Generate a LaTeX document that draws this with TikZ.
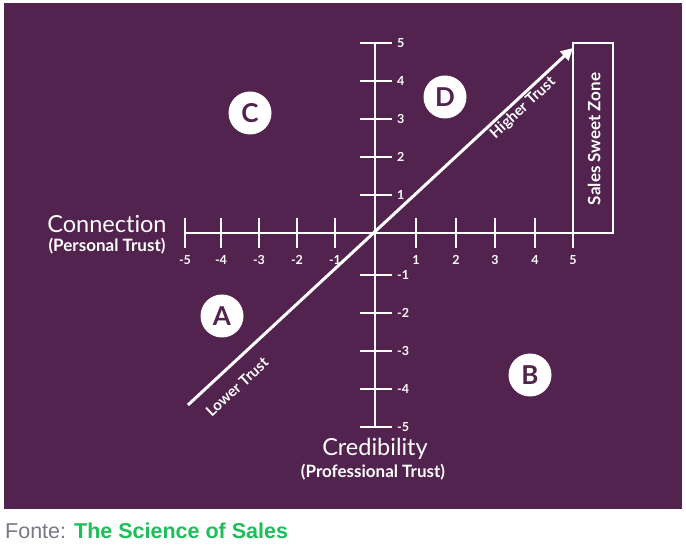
\documentclass[tikz,border=0pt]{standalone}
\usepackage{fontspec}
\setmainfont[Ligatures=NoCommon]{Lato}
\newfontfamily\footfont{Liberation Sans}
\usetikzlibrary{arrows.meta}
\definecolor{bgpurple}{RGB}{82,35,78}
\definecolor{footgray}{RGB}{120,120,135}
\definecolor{footgreen}{RGB}{30,190,90}
\tikzset{
  axisline/.style={draw=white,line width=2.6pt},
  tickmark/.style={draw=white,line width=2.2pt},
  ticklab/.style={text=white,font=\fontsize{12.5}{14}\selectfont\bfseries,inner sep=1pt},
  quad/.style={circle,fill=white,text=bgpurple,minimum size=43pt,inner sep=0pt,font=\fontsize{26}{28}\selectfont\bfseries},
  bigtitle/.style={text=white,font=\fontsize{23.5}{26}\selectfont},
  subtitle/.style={text=white,font=\fontsize{17}{19}\selectfont\bfseries},
  trustlab/.style={text=white,font=\fontsize{15}{17}\selectfont\bfseries,inner sep=1pt}
}
\begin{document}
\begin{tikzpicture}[x=1pt,y=-1pt]
\useasboundingbox[fill=white] (0,0) rectangle (686,545);
\fill[bgpurple] (4,3) rectangle (682,509);
% origin and axis ends
\coordinate (O) at (375,233);
\coordinate (xl) at (185,233);
\coordinate (xr) at (613,233);
\coordinate (yt) at (375,43);
\coordinate (yb) at (375,427);
\draw[axisline] (xl) -- (xr);
\draw[axisline] (yt) -- (yb);
% sweet zone box
\coordinate (bx1) at (573,43);
\coordinate (bx2) at (613,233);
\draw[draw=white,line width=2pt] (bx1) rectangle (bx2);
\node[text=white,font=\fontsize{17}{19}\selectfont\bfseries,rotate=90] (zone) at (594,139) {Sales Sweet Zone};
% horizontal ticks
\foreach \v/\x in {-5/185,-4/221,-3/259,-2/297,-1/335,1/416,2/456,3/495,4/535,5/573}{
  \coordinate (ht\v a) at (\x,218);
  \coordinate (ht\v b) at (\x,248);
  \draw[tickmark] (ht\v a) -- (ht\v b);
  \node[ticklab] (hl\v) at (\x,260) {\v};
}
% vertical ticks
\foreach \v/\y in {5/43,4/81,3/119,2/157,1/195,-1/275,-2/313,-3/351,-4/389,-5/427}{
  \coordinate (vt\v a) at (360,\y);
  \coordinate (vt\v b) at (392,\y);
  \draw[tickmark] (vt\v a) -- (vt\v b);
  \node[ticklab,anchor=west] (vl\v) at (396,\y) {\v};
}
% diagonal arrow
\coordinate (lowend) at (188,405);
\coordinate (highend) at (573,48);
\draw[draw=white,line width=3pt,-{Triangle[length=12pt,width=12pt]}] (lowend) -- (highend);
\node[trustlab,rotate=42.8] (lower) at (237,387) {Lower Trust};
\node[trustlab,rotate=42.8] (higher) at (523,108) {Higher Trust};
% quadrant letters
\node[quad] (qC) at (250,113) {C};
\node[quad] (qD) at (445,97) {D};
\node[quad] (qA) at (222,316) {A};
\node[quad] (qB) at (530,375) {B};
% axis titles
\node[bigtitle] (conn) at (107,224) {Connection};
\node[subtitle] (pers) at (107,246) {(Personal Trust)};
\node[bigtitle] (cred) at (375,449) {Credibility};
\node[subtitle] (prof) at (373,472) {(Professional Trust)};
% footer
\node[anchor=base west,inner sep=0pt,font=\footfont\fontsize{21.5}{24}\selectfont] (foot) at (5,538) {\textcolor{footgray}{Fonte:} \textcolor{footgreen}{\bfseries The Science of Sales}};
\end{tikzpicture}
\end{document}
